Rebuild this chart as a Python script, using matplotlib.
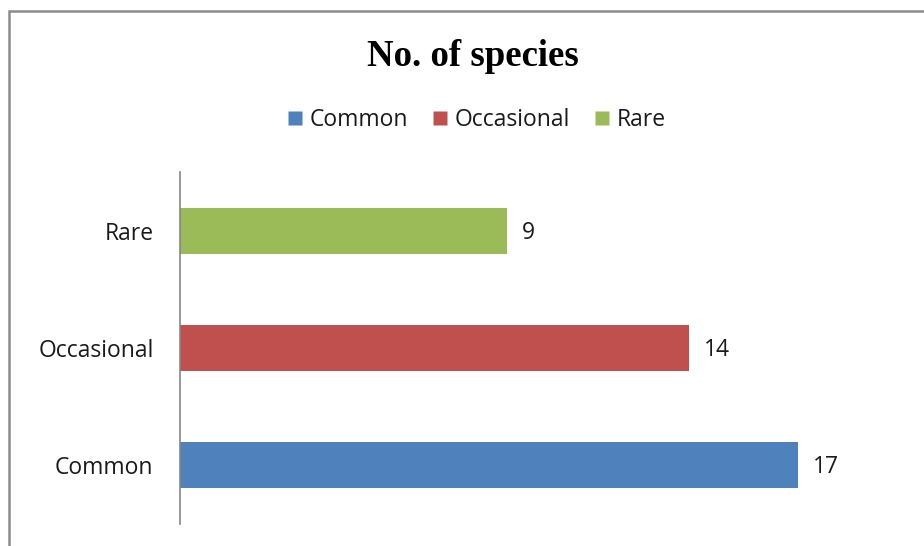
import matplotlib
matplotlib.use("Agg")
import matplotlib.pyplot as plt
from matplotlib.patches import Rectangle
from matplotlib.lines import Line2D

categories = ["Common", "Occasional", "Rare"]
values = [17, 14, 9]
colors = ["#4F81BD", "#C0504D", "#9BBB59"]
title = "No. of species"

W, H = 924, 546
fig = plt.figure(figsize=(W / 100, H / 100), dpi=100)
fig.patch.set_facecolor("white")

# border (only left/top visible in reference)
fig.add_artist(Rectangle((9 / W, -0.1), 1.2, 1 + 0.1 - 11 / H, transform=fig.transFigure,
                         fill=False, edgecolor="#8C8C8C", linewidth=1.8))

FONT = ["Open Sans", "DejaVu Sans"]
ax = fig.add_axes([180 / W, 1 - 524 / H, (907 - 180) / W, (524 - 172) / H])
ypos = list(range(len(categories)))
ax.barh(ypos, values, height=0.39, color=colors, edgecolor="none")
ax.set_xlim(0, 20)
ax.set_ylim(-0.5, len(categories) - 0.5)
ax.set_yticks(ypos)
ax.set_yticklabels(categories, family=FONT, fontsize=16.5, color="#1a1a1a")
ax.tick_params(axis="y", length=0, pad=19)
ax.set_xticks([])
for s in ["top", "right", "bottom"]:
    ax.spines[s].set_visible(False)
ax.spines["left"].set_color("#868686")
ax.spines["left"].set_linewidth(1.2)

for y, v in zip(ypos, values):
    ax.annotate(str(v), (v, y), xytext=(15, -2), textcoords="offset pixels",
                ha="left", va="center", fontsize=16.5, family=FONT, color="#1a1a1a")

fig.text(473 / W, 1 - 57 / H, title, ha="center", va="center",
         family=["Liberation Serif", "DejaVu Serif"], fontweight="bold", fontsize=26.5)

handles = [Line2D([], [], marker="s", linestyle="none", markersize=9.5, markerfacecolor=c,
                  markeredgecolor="none") for c in colors]
fig.legend(handles, categories, loc="center", bbox_to_anchor=(477 / W, 1 - 120 / H), ncol=3,
           frameon=False, prop={"family": FONT, "size": 16.5},
           handlelength=0.6, handletextpad=0.35, columnspacing=1.1, labelcolor="#1a1a1a")

fig.savefig("out.png", dpi=100, facecolor="white")
